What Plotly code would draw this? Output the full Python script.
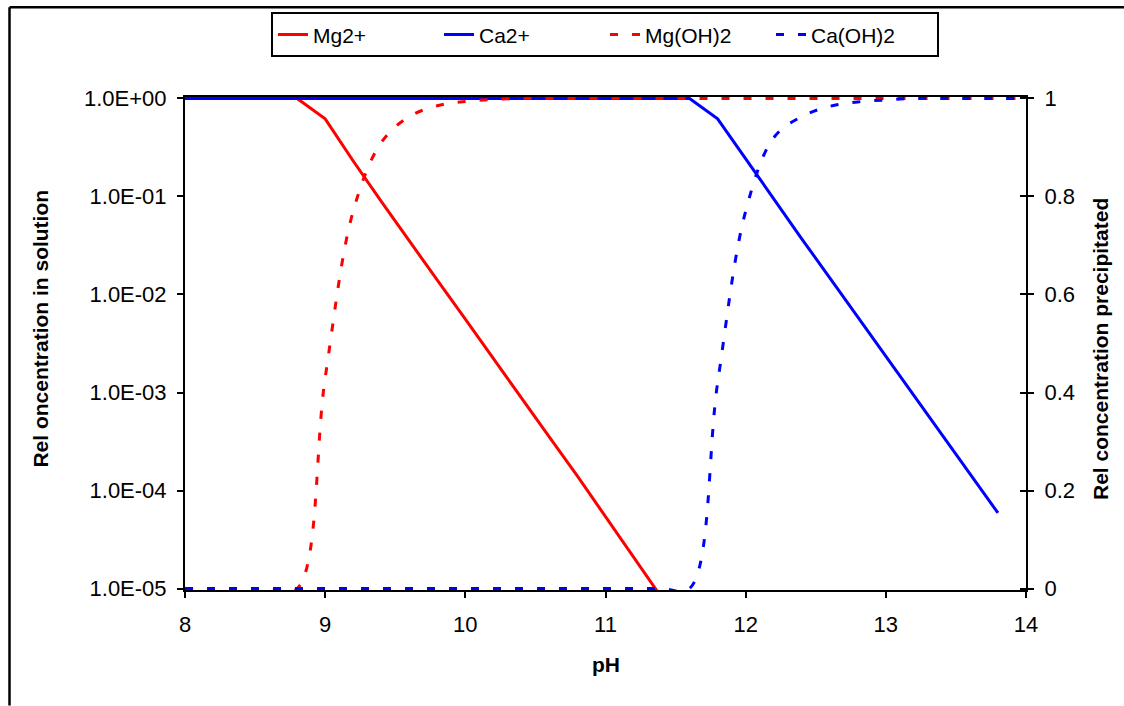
import plotly.graph_objects as go

ph = [8.0, 8.2, 8.4, 8.6, 8.8, 9.0, 9.2, 9.4, 9.6, 9.8, 10.0, 10.2, 10.4, 10.6, 10.8,
      11.0, 11.2, 11.4, 11.6, 11.8, 12.0, 12.2, 12.4, 12.6, 12.8, 13.0, 13.2, 13.4,
      13.6, 13.8, 14.0]

mg_sol = [1, 1, 1, 1, 1, 0.62, 0.23, 0.089, 0.035, 0.014, 0.0056, 0.0022, 0.00089,
          0.00035, 0.00014, 0.000054, 0.000021, 0.0000081, None, None, None, None,
          None, None, None, None, None, None, None, None, None]

ca_sol = [1, 1, 1, 1, 1, 1, 1, 1, 1, 1, 1, 1, 1, 1, 1, 1, 1, 1, 1,
          0.62, 0.24, 0.093, 0.037, 0.0148, 0.0059, 0.0023, 0.00093, 0.00037,
          0.000148, 0.000059, None]

mg_ppt = [0, 0, 0, 0, 0, 0.43, 0.77, 0.91, 0.963, 0.985, 0.994, 0.998, 1, 1, 1,
          1, 1, 1, 1, 1, 1, 1, 1, 1, 1, 1, 1, 1, 1, 1, 1]

ca_ppt = [0, 0, 0, 0, 0, 0, 0, 0, 0, 0, 0, 0, 0, 0, 0, 0, 0, 0, 0,
          0.42, 0.77, 0.92, 0.963, 0.984, 0.993, 0.997, 1, 1, 1, 1, 1]

log_ticks = [1e-5, 1e-4, 1e-3, 1e-2, 1e-1, 1]
log_labels = ["1.0E-05", "1.0E-04", "1.0E-03", "1.0E-02", "1.0E-01", "1.0E+00"]
lin_ticks = [0, 0.2, 0.4, 0.6, 0.8, 1]
lin_labels = ["0", "0.2", "0.4", "0.6", "0.8", "1"]
x_ticks = [8, 9, 10, 11, 12, 13, 14]

RED = "#FF0000"
BLUE = "#0000FF"
FONT = "Liberation Sans, Arial, sans-serif"
DASH = "8px,14px"

fig = go.Figure()
fig.add_trace(go.Scatter(x=ph, y=mg_sol, name="Mg2+", mode="lines",
                         line=dict(color=RED, width=3), yaxis="y"))
fig.add_trace(go.Scatter(x=ph, y=ca_sol, name="Ca2+", mode="lines",
                         line=dict(color=BLUE, width=3), yaxis="y"))
fig.add_trace(go.Scatter(x=ph, y=mg_ppt, name="Mg(OH)2", mode="lines",
                         line=dict(color=RED, width=3, dash=DASH, shape="spline", smoothing=1),
                         yaxis="y2"))
fig.add_trace(go.Scatter(x=ph, y=ca_ppt, name="Ca(OH)2", mode="lines",
                         line=dict(color=BLUE, width=3, dash=DASH, shape="spline", smoothing=1),
                         yaxis="y2"))
fig.add_trace(go.Scatter(x=[], y=[], yaxis="y3", showlegend=False, hoverinfo="skip"))

pad_log = 0.015
pad_lin = 0.003

L, R, T, B = 185, 98, 95, 116
W, H = 1124, 706
pw = W - L - R
ph_px = H - T - B


def px2paper(px, py):
    return (px - L) / pw, (H - B - py) / ph_px


axis_common = dict(showgrid=False, zeroline=False, showline=True, linecolor="black",
                   linewidth=2, ticks="outside", ticklen=6, tickwidth=2, tickcolor="black",
                   tickfont=dict(family=FONT, size=22, color="black"), layer="below traces")

lx, ly = px2paper(271, 10)
fig.update_layout(
    width=W, height=H,
    margin=dict(l=L, r=R, t=T, b=B, pad=0),
    paper_bgcolor="white", plot_bgcolor="white",
    font=dict(family=FONT, color="black"),
    xaxis=dict(range=[8, 14], tickvals=x_ticks, mirror=True, ticklabelstandoff=8,
               **axis_common),
    yaxis=dict(type="log", range=[-5 - pad_log, 0 + pad_log], tickvals=log_ticks,
               ticktext=log_labels, ticklabelstandoff=6, **axis_common),
    yaxis2=dict(range=[0 - pad_lin, 1 + pad_lin], overlaying="y", side="right",
                tickvals=lin_ticks, ticktext=lin_labels, ticklabelstandoff=6, **axis_common),
    yaxis3=dict(range=[0 - pad_lin, 1 + pad_lin], overlaying="y", side="right",
                tickvals=lin_ticks, showticklabels=False, showgrid=False, zeroline=False,
                showline=False, ticks="inside", ticklen=6, tickwidth=2, tickcolor="black"),
    showlegend=True,
    legend=dict(orientation="h", x=lx, y=ly,
                xanchor="left", yanchor="top", bgcolor="white", bordercolor="black",
                borderwidth=2, font=dict(family=FONT, size=21, color="black"),
                entrywidth=121, entrywidthmode="pixels", tracegroupgap=0),
)

ax, ay = px2paper(41, 327.5)
fig.add_annotation(x=ax, y=ay, xref="paper", yref="paper", text="<b>Rel oncentration in solution</b>",
                   textangle=-90, showarrow=False, xanchor="center", yanchor="middle",
                   font=dict(family=FONT, size=21, color="black"))
ax, ay = px2paper(1101, 348)
fig.add_annotation(x=ax, y=ay, xref="paper", yref="paper", text="<b>Rel concentration precipitated</b>",
                   textangle=-90, showarrow=False, xanchor="center", yanchor="middle",
                   font=dict(family=FONT, size=21, color="black"))
ax, ay = px2paper(606, 665)
fig.add_annotation(x=ax, y=ay, xref="paper", yref="paper", text="<b>pH</b>",
                   showarrow=False, xanchor="center", yanchor="middle",
                   font=dict(family=FONT, size=21, color="black"))

# outer frame (left and top edges visible)
x0, y0 = px2paper(9.5, 706)
x1, y1 = px2paper(9.5, 5)
x2, _ = px2paper(1124, 5)
fig.add_shape(type="line", xref="paper", yref="paper", x0=x0, y0=y0, x1=x1, y1=y1,
              line=dict(color="black", width=2.5))
fig.add_shape(type="line", xref="paper", yref="paper", x0=x1, y0=y1, x1=x2, y1=y1,
              line=dict(color="black", width=2.5))

fig.write_html("out.html")
